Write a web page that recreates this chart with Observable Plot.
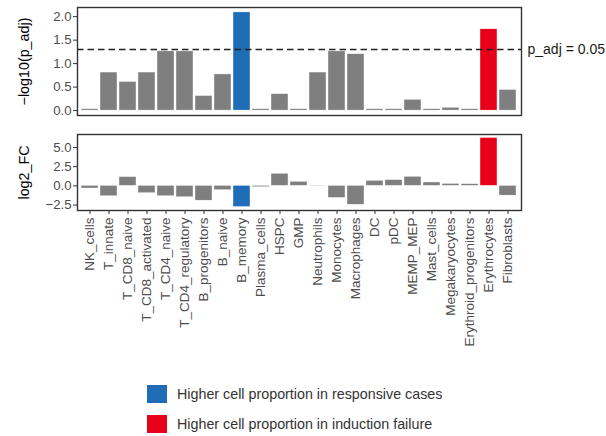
<!DOCTYPE html>
<html><head><meta charset="utf-8">
<script src="https://cdn.jsdelivr.net/npm/d3@7"></script>
<script src="https://cdn.jsdelivr.net/npm/@observablehq/plot@0.6"></script>
<style>
body{margin:0;background:#fff;font-family:"Liberation Sans",Arial,Helvetica,sans-serif;}
#chart{width:606px;position:relative}
#chart svg{display:block}
g[aria-label="y-axis label"] text{fill:#000;font-size:14.3px}
#legend{margin-top:25px;margin-left:147px}
.item{display:flex;align-items:center;height:18px;margin-bottom:12px;font-size:14.3px;color:#333}
.sw{width:20px;height:18px;margin-right:10px}
</style></head><body><div id="chart"></div><div id="legend"></div>
<script>
const categories = ["NK_cells","T_innate","T_CD8_naive","T_CD8_activated","T_CD4_naive","T_CD4_regulatory","B_progenitors","B_naive","B_memory","Plasma_cells","HSPC","GMP","Neutrophils","Monocytes","Macrophages","DC","pDC","MEMP_MEP","Mast_cells","Megakaryocytes","Erythroid_progenitors","Erythrocytes","Fibroblasts"];
const negLog10Padj = [0.03,0.81,0.61,0.81,1.26,1.26,0.31,0.77,2.09,0.03,0.35,0.03,0.81,1.26,1.20,0.03,0.03,0.23,0.03,0.06,0.03,1.73,0.44];
const log2FC = [-0.35,-1.36,1.14,-0.96,-1.36,-1.49,-1.93,-0.57,-2.76,-0.18,1.58,0.53,0.04,-1.58,-2.46,0.66,0.75,1.18,0.44,0.26,0.22,6.24,-1.27];
const groups = ["ns","ns","ns","ns","ns","ns","ns","ns","responsive","ns","ns","ns","ns","ns","ns","ns","ns","ns","ns","ns","ns","failure","ns"];
const groupDomain = ["ns","responsive","failure"];
const groupColors = ["#7f7f7f","#1f6db7","#e8001b"];
const legendLabels = {responsive:"Higher cell proportion in responsive cases", failure:"Higher cell proportion in induction failure"};
const threshold = [{v:1.301, label:"p_adj = 0.05"}];
const topTicks = [0,0.5,1,1.5,2];
const bottomTicks = [-2.5,0,2.5,5];

const rows = categories.map((c,i)=>({cell:c, p:negLog10Padj[i], fc:log2FC[i], group:groups[i]}));
function expand(vals){const lo=Math.min(0,d3.min(vals)), hi=Math.max(0,d3.max(vals)); const pad=(hi-lo)*0.05; return [lo-pad, hi+pad];}

const font = '"Liberation Sans",Arial,Helvetica,sans-serif';
const common = {
  width:606, marginLeft:77, marginRight:85,
  style:{fontFamily:font, fontSize:"13.2px", color:"#4d4d4d", background:"white", overflow:"visible"},
  x:{type:"band", domain:categories, paddingInner:0.1, paddingOuter:0.15},
  color:{domain:groupDomain, range:groupColors}
};

const topPlot = Plot.plot({
  ...common, height:121, marginTop:7, marginBottom:6,
  x:{...common.x, axis:null},
  y:{domain:expand(negLog10Padj)},
  marks:[
    Plot.barY(rows,{x:"cell", y:"p", fill:"group", stroke:"white", strokeWidth:0.4}),
    Plot.ruleY(threshold,{y:"v", stroke:"#222", strokeWidth:1.6, strokeDasharray:"6.5,4"}),
    Plot.text(threshold,{y:"v", text:"label", frameAnchor:"right", dx:6, textAnchor:"start", fill:"#1a1a1a", fontSize:14}),
    Plot.frame({stroke:"#333", strokeWidth:1.4}),
    Plot.axisY({ticks:topTicks, tickFormat:".1f", tickSize:4, tickPadding:2, label:"−log10(p_adj)", labelAnchor:"center", labelArrow:"none", labelOffset:59, fontSize:13.2, stroke:"#333"})
  ]
});

const bottomPlot = Plot.plot({
  ...common, height:239, marginTop:13, marginBottom:150,
  y:{domain:expand(log2FC)},
  marks:[
    Plot.barY(rows,{x:"cell", y:"fc", fill:"group", stroke:"white", strokeWidth:0.4}),
    Plot.frame({stroke:"#333", strokeWidth:1.4}),
    Plot.axisY({ticks:bottomTicks, tickFormat:".1f", tickSize:4, tickPadding:2, label:"log2_FC", labelAnchor:"center", labelArrow:"none", labelOffset:59, fontSize:13.2, stroke:"#333"}),
    Plot.axisX({tickRotate:-90, tickSize:4, tickPadding:3, label:null, fontSize:13.5, stroke:"#333"})
  ]
});

const chart = document.getElementById("chart");
chart.appendChild(topPlot);
chart.appendChild(bottomPlot);

const legend = document.getElementById("legend");
groupDomain.forEach((g,i)=>{
  if(!legendLabels[g]) return;
  const it=document.createElement("div"); it.className="item";
  const sw=document.createElement("div"); sw.className="sw"; sw.style.background=groupColors[i];
  const tx=document.createElement("span"); tx.textContent=legendLabels[g];
  it.appendChild(sw); it.appendChild(tx); legend.appendChild(it);
});
</script></body></html>
